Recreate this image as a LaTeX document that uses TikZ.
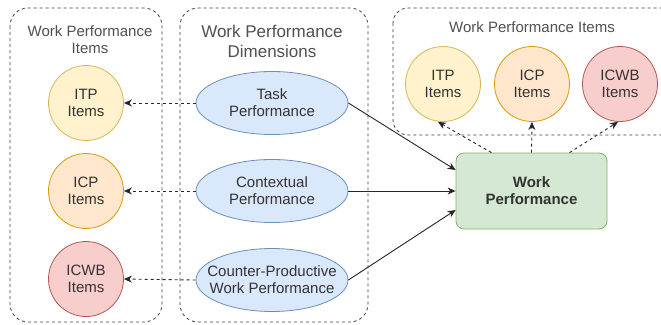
\documentclass[tikz,border=0pt]{standalone}
\usepackage{fontspec}
\setmainfont{Liberation Sans}
\usetikzlibrary{arrows.meta,shapes.geometric}
\definecolor{itpfill}{HTML}{FFF2CC}\definecolor{itpdraw}{HTML}{D6B656}
\definecolor{icpfill}{HTML}{FFE6CC}\definecolor{icpdraw}{HTML}{D79B00}
\definecolor{icwbfill}{HTML}{F8CECC}\definecolor{icwbdraw}{HTML}{B85450}
\definecolor{dimfill}{HTML}{DAE8FC}\definecolor{dimdraw}{HTML}{6C8EBF}
\definecolor{wpfill}{HTML}{D5E8D4}\definecolor{wpdraw}{HTML}{82B366}
\definecolor{txt}{HTML}{333333}
\definecolor{ttl}{HTML}{505050}
\begin{document}
\begin{tikzpicture}[x=1pt,y=-1pt,
  every node/.style={font=\fontsize{15}{17}\selectfont, text=txt, align=center, inner sep=0pt},
  group/.style={draw=black!75, line width=0.8pt, dash pattern=on 3pt off 3pt, rounded corners=18pt},
  title/.style={text=ttl},
  item/.style={circle, minimum size=75pt, line width=0.8pt},
  itp/.style={item, fill=itpfill, draw=itpdraw},
  icp/.style={item, fill=icpfill, draw=icpdraw},
  icwb/.style={item, fill=icwbfill, draw=icwbdraw},
  dim/.style={ellipse, inner xsep=-14pt, inner ysep=-4pt, minimum width=152pt, minimum height=63pt, fill=dimfill, draw=dimdraw, line width=0.8pt},
  wp/.style={rectangle, rounded corners=8pt, minimum width=151pt, minimum height=76pt, fill=wpfill, draw=wpdraw, line width=0.8pt, font=\fontsize{15}{17}\selectfont\bfseries},
  link/.style={draw=black!85, line width=0.9pt, -{Stealth[length=8pt,width=7pt,inset=2.5pt]}},
  dlink/.style={link, dash pattern=on 3pt off 3pt}
]
\clip (0,0) rectangle (661,324);
\fill[white] (0,0) rectangle (661,324);

% group frames
\draw[group] (10,8) rectangle (162,322);
\draw[group] (180,8) rectangle (368,322);
\draw[group, rounded corners=15pt] (393,8) rectangle (700,135);

% group titles
\node[title] (t1) at (90,40) {Work Performance\\Items};
\node[title, font=\fontsize{17}{20}\selectfont] (t2) at (272,41) {Work Performance\\Dimensions};
\node[title] (t3) at (532,27) {Work Performance Items};

% items on the left
\node[itp]  (itp1)  at (86,103) {ITP\\Items};
\node[icp]  (icp1)  at (86,191) {ICP\\Items};
\node[icwb] (icwb1) at (86,279) {ICWB\\Items};

% dimensions
\node[dim] (task) at (272,103) {Task\\Performance};
\node[dim] (ctx)  at (272,191) {Contextual\\Performance};
\node[dim] (cwp)  at (272,280) {Counter-Productive\\Work Performance};

% items on the top right
\node[itp]  (itp2)  at (443,84) {ITP\\Items};
\node[icp]  (icp2)  at (532,84) {ICP\\Items};
\node[icwb] (icwb2) at (620,84) {ICWB\\Items};

% outcome
\node[wp] (wp) at (531.5,191) {Work\\Performance};

% dimensions to their items
\draw[dlink] (task.west) -- (itp1.east);
\draw[dlink] (ctx.west) -- (icp1.east);
\draw[dlink] (cwp.west) -- (icwb1.east);

% dimensions to work performance
\draw[link] (task.east) -- ([yshift=21pt]wp.west);
\draw[link] (ctx.east) -- (wp.west);
\draw[link] (cwp.east) -- ([yshift=-19pt]wp.west);

% work performance to its items
\draw[dlink] ([xshift=-40pt]wp.north) -- ([xshift=-5pt]itp2.south);
\draw[dlink] (wp.north) -- (icp2.south);
\draw[dlink] ([xshift=38pt]wp.north) -- ([xshift=-2pt]icwb2.south);
\end{tikzpicture}
\end{document}
